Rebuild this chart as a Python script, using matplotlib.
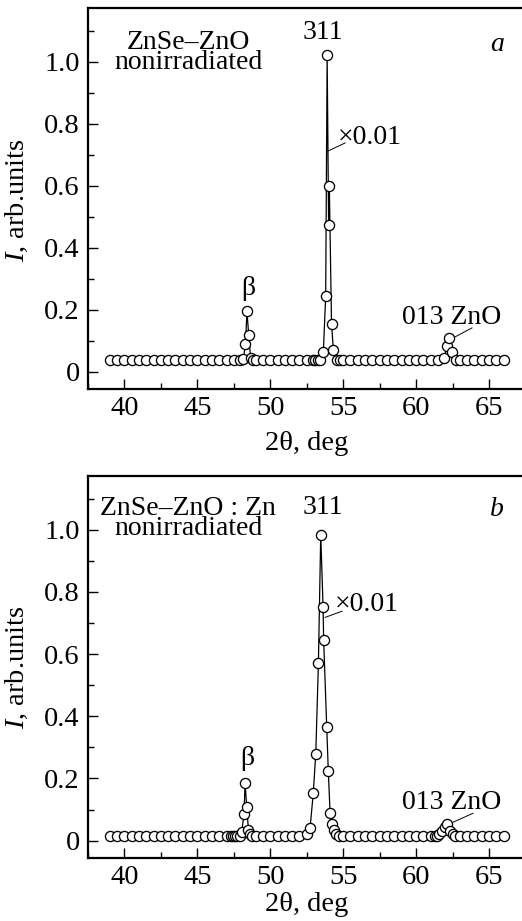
import matplotlib
matplotlib.use("Agg")
import matplotlib.pyplot as plt
from matplotlib.ticker import MultipleLocator, FuncFormatter

plt.rcParams["font.family"] = ["Liberation Serif", "DejaVu Serif"]
plt.rcParams["mathtext.fontset"] = "custom"
plt.rcParams["mathtext.rm"] = "Liberation Serif"
plt.rcParams["mathtext.it"] = "Liberation Serif:italic"

# ---- data ------------------------------------------------------------------
# panel a: ZnSe-ZnO, nonirradiated
x_a = [39.0, 39.5, 40.0, 40.5, 41.0, 41.5, 42.0, 42.5, 43.0, 43.5, 44.0, 44.5,
       45.0, 45.5, 46.0, 46.5, 47.0, 47.5, 47.9, 48.15, 48.3, 48.4, 48.52, 48.65,
       48.8, 49.0, 49.5, 50.0, 50.5, 51.0, 51.5, 52.0, 52.5, 52.95, 53.1, 53.25,
       53.4, 53.64, 53.8, 53.9, 54.0, 54.05, 54.2, 54.33, 54.56, 54.78, 55.0,
       55.5, 56.0, 56.5, 57.0, 57.5, 58.0, 58.5, 59.0, 59.5, 60.0, 60.5, 61.0,
       61.5, 61.94, 62.1, 62.28, 62.44, 62.75, 63.0, 63.5, 64.0, 64.5, 65.0,
       65.5, 66.0]
y_a = [0.04, 0.04, 0.04, 0.04, 0.04, 0.04, 0.04, 0.04, 0.04, 0.04, 0.04, 0.04,
       0.04, 0.04, 0.04, 0.04, 0.04, 0.04, 0.04, 0.042, 0.09, 0.195, 0.12, 0.045,
       0.04, 0.04, 0.04, 0.04, 0.04, 0.04, 0.04, 0.04, 0.04, 0.04, 0.04, 0.04,
       0.04, 0.065, 0.245, 1.02, 0.475, 0.6, 0.155, 0.07, 0.04, 0.04, 0.04,
       0.04, 0.04, 0.04, 0.04, 0.04, 0.04, 0.04, 0.04, 0.04, 0.04, 0.04, 0.04,
       0.04, 0.045, 0.085, 0.11, 0.065, 0.04, 0.04, 0.04, 0.04, 0.04, 0.04,
       0.04, 0.04]

# panel b: ZnSe-ZnO:Zn, nonirradiated
x_b = [39.0, 39.5, 40.0, 40.5, 41.0, 41.5, 42.0, 42.5, 43.0, 43.5, 44.0, 44.5,
       45.0, 45.5, 46.0, 46.5, 47.0, 47.3, 47.45, 47.6, 47.75, 47.9, 48.04, 48.2,
       48.27, 48.39, 48.5, 48.6, 48.75, 49.0, 49.5, 50.0, 50.5, 51.0, 51.5, 52.0,
       52.5, 52.73, 52.95, 53.12, 53.3, 53.46, 53.62, 53.66, 53.87, 53.98, 54.1,
       54.2, 54.35, 54.5, 54.7, 55.0, 55.5, 56.0, 56.5, 57.0, 57.5, 58.0, 58.5,
       59.0, 59.5, 60.0, 60.5, 61.0, 61.3, 61.45, 61.6, 61.75, 61.95, 62.1, 62.3,
       62.5, 62.7, 63.0, 63.5, 64.0, 64.5, 65.0, 65.5, 66.0]
y_b = [0.015, 0.015, 0.015, 0.015, 0.015, 0.015, 0.015, 0.015, 0.015, 0.015,
       0.015, 0.015, 0.015, 0.015, 0.015, 0.015, 0.015, 0.015, 0.015, 0.015,
       0.015, 0.015, 0.028, 0.087, 0.185, 0.107, 0.035, 0.02, 0.015, 0.015,
       0.015, 0.015, 0.015, 0.015, 0.015, 0.015, 0.022, 0.041, 0.154, 0.28,
       0.57, 0.984, 0.753, 0.645, 0.366, 0.223, 0.09, 0.052, 0.035, 0.02, 0.015,
       0.015, 0.015, 0.015, 0.015, 0.015, 0.015, 0.015, 0.015, 0.015, 0.015,
       0.015, 0.015, 0.015, 0.015, 0.015, 0.02, 0.03, 0.045, 0.055, 0.03, 0.02,
       0.015, 0.015, 0.015, 0.015, 0.015, 0.015, 0.015, 0.015]

FS = 20.5      # tick labels, axis labels
FT = 20        # annotations

fig = plt.figure(figsize=(5.22, 9.21), dpi=100)
ax_a = fig.add_axes([0.1686, 0.5776, 0.852, 0.4137])
ax_b = fig.add_axes([0.1686, 0.0687, 0.852, 0.4145])


def style_axes(ax):
    ax.set_xlim(37.5, 68)
    ax.set_ylim(-0.055, 1.173)
    ax.xaxis.set_major_locator(MultipleLocator(5))
    ax.xaxis.set_minor_locator(MultipleLocator(2.5))
    ax.yaxis.set_major_locator(MultipleLocator(0.2))
    ax.yaxis.set_minor_locator(MultipleLocator(0.1))
    ax.yaxis.set_major_formatter(FuncFormatter(lambda v, p: "0" if abs(v) < 1e-9 else f"{v:.1f}"))
    ax.tick_params(which="both", direction="in", top=False, right=False,
                   labelsize=FS, width=1.0)
    ax.tick_params(which="major", length=7, pad=6)
    ax.tick_params(axis="x", which="major", pad=5)
    ax.tick_params(which="minor", length=4)
    for s in ax.spines.values():
        s.set_linewidth(1.6)


def draw_panel(ax, x, y):
    ax.plot(x, y, color="black", lw=0.9, marker="o", ms=7.3, mfc="white",
            mec="black", mew=0.95, zorder=3)
    style_axes(ax)


draw_panel(ax_a, x_a, y_a)
draw_panel(ax_b, x_b, y_b)

# ---- panel a annotations ---------------------------------------------------
ax_a.text(44.37, 1.03, "ZnSe–ZnO\nnonirradiated", fontsize=FT, ha="center",
          va="center", linespacing=0.72)
ax_a.text(53.62, 1.093, "311", fontsize=FT, ha="center", va="center")
ax_a.text(65.55, 1.057, "a", fontsize=FT, ha="center", va="center", style="italic")
ax_a.text(54.6, 0.757, "×0.01", fontsize=FT, ha="left", va="center")
ax_a.plot([53.96, 55.13], [0.712, 0.738], color="black", lw=0.7)
ax_a.text(48.46, 0.27, "β", fontsize=FT, ha="center", va="center")
ax_a.text(62.46, 0.174, "013 ZnO", fontsize=FT, ha="center", va="center")
ax_a.plot([62.67, 63.83], [0.113, 0.142], color="black", lw=0.7)

# ---- panel b annotations ---------------------------------------------------
ax_b.text(44.37, 1.036, "ZnSe–ZnO : Zn\nnonirradiated", fontsize=FT, ha="center",
          va="center", linespacing=0.72)
ax_b.text(53.62, 1.071, "311", fontsize=FT, ha="center", va="center")
ax_b.text(65.55, 1.064, "b", fontsize=FT, ha="center", va="center", style="italic")
ax_b.text(54.44, 0.758, "×0.01", fontsize=FT, ha="left", va="center")
ax_b.plot([53.76, 54.92], [0.718, 0.738], color="black", lw=0.7)
ax_b.text(48.4, 0.265, "β", fontsize=FT, ha="center", va="center")
ax_b.text(62.46, 0.123, "013 ZnO", fontsize=FT, ha="center", va="center")
ax_b.plot([62.53, 63.9], [0.059, 0.088], color="black", lw=0.7)

# axis labels placed in figure pixels
W, H = 522, 921
for ylab_px, xlab_px in [(200, 443), (667, 904)]:
    fig.text(17 / W, 1 - ylab_px / H, r"$\mathit{I}$, arb.units", fontsize=FS,
             rotation=90, ha="center", va="center")
    fig.text(307 / W, 1 - xlab_px / H, "2θ, deg", fontsize=FS,
             ha="center", va="center")

fig.savefig("out.png", dpi=100)
